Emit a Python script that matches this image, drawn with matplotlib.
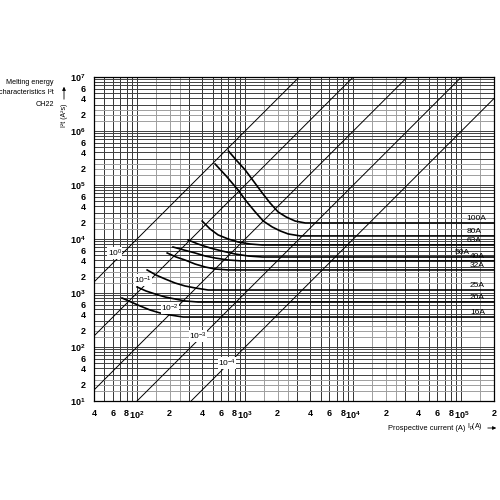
import numpy as np
import matplotlib
matplotlib.use("Agg")
import matplotlib.pyplot as plt
from matplotlib.ticker import FixedLocator, NullLocator

plt.rcParams['font.family'] = ['Liberation Sans', 'DejaVu Sans']

# fuse ratings and their melting I2t curves (current A, energy A2s)
ratings = ['100A', '80A', '63A', '50A', '40A', '32A', '25A', '20A', '16A']
curve_i = [
    [700, 826, 1000, 1190, 1440, 1700, 2020, 2400, 2900, 3600, 2e5],
    [527, 667, 860, 1020, 1240, 1470, 1780, 2110, 2500, 3230, 2e5],
    [400, 474, 562, 697, 861, 1110, 1440, 2e5],
    [297, 367, 475, 612, 808, 1070, 1440, 2e5],
    [215, 272, 344, 427, 527, 697, 940, 2e5],
    [190, 230, 278, 344, 427, 527, 697, 2e5],
    [124, 150, 182, 225, 278, 344, 454, 2e5],
    [100, 121, 147, 182, 225, 278, 367, 2e5],
    [72.6, 88, 107, 132, 163, 202, 267, 2e5],
]
curve_e = [
    [4.27e5, 2.9e5, 1.9e5, 1.19e5, 7.1e4, 4.64e4, 3.16e4, 2.55e4, 2.15e4, 1.98e4, 1.98e4],
    [2.45e5, 1.47e5, 8.1e4, 5.06e4, 3.16e4, 2.15e4, 1.67e4, 1.41e4, 1.24e4, 1.14e4, 1.14e4],
    [21500, 15300, 11900, 10000, 8800, 8070, 7740, 7740],
    [9580, 8070, 6810, 5990, 5270, 4840, 4640, 4640],
    [7110, 6250, 5510, 4840, 4450, 4080, 3915, 3915],
    [5510, 4640, 4080, 3440, 3030, 2780, 2670, 2670],
    [2670, 2150, 1816, 1530, 1349, 1240, 1136, 1136],
    [1292, 1090, 958, 843, 774, 711, 681, 681],
    [808, 681, 574, 484, 427, 392, 359, 359],
]
rating_label_x = [1.12e5, 1.12e5, 1.12e5, 8.6e4, 1.2e5, 1.2e5, 1.2e5, 1.2e5, 1.2e5]

# constant time lines I2t = t * I^2
times = [1, 0.1, 0.01, 1e-3, 1e-4]
time_labels = ['$\\mathregular{10^{0}}$', '$\\mathregular{10^{-1}}$', '$\\mathregular{10^{-2}}$',
               '$\\mathregular{10^{-3}}$', '$\\mathregular{10^{-4}}$']
time_label_x = [62.5, 114, 202, 367, 681]
time_label_y = [5500, 1740, 527, 160, 50.6]

x_ticks = [40, 60, 80, 1e2, 2e2, 4e2, 6e2, 8e2, 1e3, 2e3, 4e3, 6e3, 8e3,
           1e4, 2e4, 4e4, 6e4, 8e4, 1e5, 2e5]
x_tick_labels = ['4', '6', '8', '$\\mathregular{10^2}$', '2', '4', '6', '8', '$\\mathregular{10^3}$',
                 '2', '4', '6', '8', '$\\mathregular{10^4}$', '2', '4', '6', '8',
                 '$\\mathregular{10^5}$', '2']
y_ticks = [10, 20, 40, 60, 1e2, 2e2, 4e2, 6e2, 1e3, 2e3, 4e3, 6e3, 1e4, 2e4, 4e4, 6e4,
           1e5, 2e5, 4e5, 6e5, 1e6, 2e6, 4e6, 6e6, 1e7]
y_tick_labels = ['$\\mathregular{10^1}$', '2', '4', '6', '$\\mathregular{10^2}$', '2', '4', '6',
                 '$\\mathregular{10^3}$', '2', '4', '6', '$\\mathregular{10^4}$', '2', '4', '6',
                 '$\\mathregular{10^5}$', '2', '4', '6', '$\\mathregular{10^6}$', '2', '4', '6',
                 '$\\mathregular{10^7}$']

dark_subs = [1, 3, 4, 5, 6, 7, 8, 9]
light_subs = [1.5, 2, 2.5]

fig = plt.figure(figsize=(5, 5), dpi=100)
ax = fig.add_axes([0.188, 0.198, 0.8, 0.648])
ax.set_xscale('log')
ax.set_yscale('log')
ax.set_xlim(40, 2e5)
ax.set_ylim(10, 1e7)

# graph paper grid
for dec in range(1, 6):
    for s in dark_subs:
        ax.axvline(s * 10 ** dec, color='0.2', lw=0.7, zorder=1)
    for s in light_subs:
        ax.axvline(s * 10 ** dec, color='0.62', lw=0.7, zorder=1)
for dec in range(1, 7):
    for s in dark_subs:
        ax.axhline(s * 10 ** dec, color='0.25', lw=0.7, zorder=1)
    for s in light_subs:
        ax.axhline(s * 10 ** dec, color='0.62', lw=0.7, zorder=1)

i_span = np.array([40, 2e5])
for t in times:
    ax.plot(i_span, t * i_span ** 2, color='black', lw=0.7, zorder=2)
for lab, x, y in zip(time_labels, time_label_x, time_label_y):
    ax.text(x, y, lab, fontsize=6, ha='center', va='center', zorder=4,
            bbox=dict(facecolor='white', edgecolor='none', pad=0.2))

for name, xs, ys, lx in zip(ratings, curve_i, curve_e, rating_label_x):
    ax.plot(xs, ys, color='black', lw=1.2, zorder=3)
    ax.text(lx, ys[-1] * 1.04, name, fontsize=6, ha='left', va='bottom', zorder=4)

ax.xaxis.set_major_locator(FixedLocator(x_ticks))
ax.xaxis.set_minor_locator(NullLocator())
ax.set_xticklabels(x_tick_labels)
ax.yaxis.set_major_locator(FixedLocator(y_ticks))
ax.yaxis.set_minor_locator(NullLocator())
ax.set_yticklabels(y_tick_labels)
ax.tick_params(length=0, labelsize=6.5, pad=6)
for lbl in ax.get_xticklabels() + ax.get_yticklabels():
    lbl.set_fontweight('bold')
for sp in ax.spines.values():
    sp.set_linewidth(0.9)

fig.text(0.108, 0.834, 'Melting energy', fontsize=5.2, ha='right', va='center')
fig.text(0.108, 0.814, 'characteristics I\u00b2t', fontsize=5.2, ha='right', va='center')
fig.text(0.108, 0.790, 'CH22', fontsize=5.2, ha='right', va='center')

fig.text(0.128, 0.77, 'I\u00b2t (A\u00b2s)', fontsize=5, rotation=90, ha='center', va='center')
fig.patches.append(matplotlib.patches.FancyArrowPatch(
    (0.128, 0.796), (0.128, 0.832), transform=fig.transFigure,
    arrowstyle='-|>', mutation_scale=5, lw=0.6, color='black'))

fig.text(0.776, 0.144, 'Prospective current (A)', fontsize=5.4, ha='left', va='center')
fig.text(0.934, 0.147, 'I$_\\mathregular{p}$(A)', fontsize=5, ha='left', va='center')
fig.patches.append(matplotlib.patches.FancyArrowPatch(
    (0.970, 0.144), (0.998, 0.144), transform=fig.transFigure,
    arrowstyle='-|>', mutation_scale=5, lw=0.6, color='black'))

fig.savefig('out.png', dpi=100)
